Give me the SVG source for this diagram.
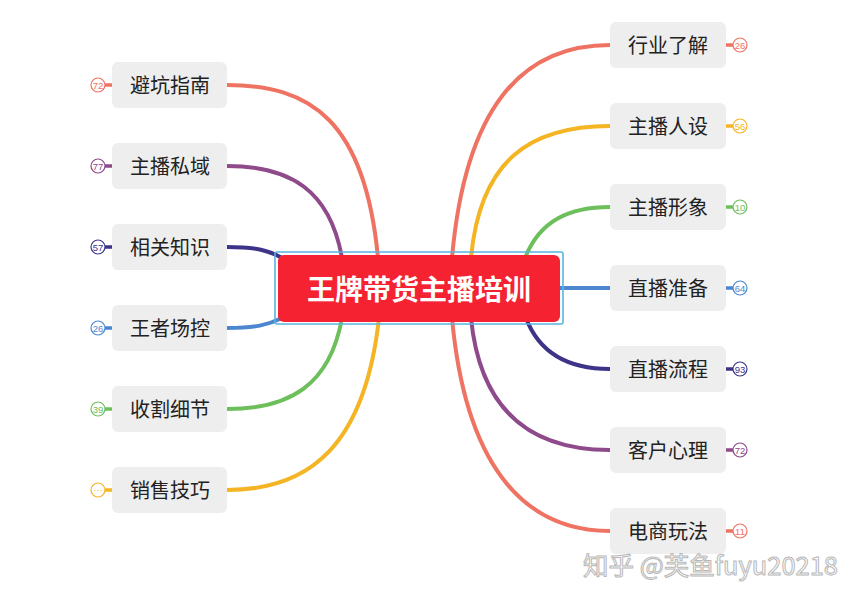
<svg xmlns="http://www.w3.org/2000/svg" width="861" height="602" viewBox="0 0 861 602">
<defs>
<style>
.bg{fill:#ffffff}
.conn path{fill:none;stroke-width:4;stroke-linecap:round}
.box{fill:#eeeeee}
.lbl{font-family:"Noto Sans CJK SC","Liberation Sans",sans-serif;font-size:20px;fill:#222222;text-anchor:middle;dominant-baseline:central}
.badge circle{fill:#ffffff;stroke-width:1.2}
.badge text{font-family:"Liberation Sans",sans-serif;font-size:9.5px;text-anchor:middle;dominant-baseline:central}
.stub{stroke-width:3.5;fill:none}
.c1{stroke:#EF7362}.t1{fill:#EF7362}
.c2{stroke:#F4B423}.t2{fill:#F4B423}
.c3{stroke:#6CBF5A}.t3{fill:#6CBF5A}
.c4{stroke:#4C86CE}.t4{fill:#4C86CE}
.c5{stroke:#3D3389}.t5{fill:#3D3389}
.c6{stroke:#8E4A8A}.t6{fill:#8E4A8A}
.title{font-family:"Noto Sans CJK SC","Liberation Sans",sans-serif;font-size:28px;font-weight:bold;fill:#ffffff;text-anchor:middle;dominant-baseline:central}
.wm{font-family:"Noto Sans CJK SC","Liberation Sans",sans-serif;font-size:25px;fill:#ffffff;stroke:#b8b8b8;stroke-width:1}
</style>
</defs>
<rect class="bg" x="0" y="0" width="861" height="602"/>

<g id="connectors" class="conn">
<path class="c1" d="M452,258 C465,110 520,45 610,45"/>
<path class="c2" d="M471,258 C480,160 530,126 610,126"/>
<path class="c3" d="M525,258 C540,220 570,207 610,207"/>
<path class="c4" d="M556,288 L610,288"/>
<path class="c5" d="M526,318 C540,355 570,369 610,369"/>
<path class="c6" d="M471,318 C480,410 530,450 610,450"/>
<path class="c1" d="M452,318 C465,460 520,531 610,531"/>
<path class="c1" d="M378,258 C365,120 310,85 227,85"/>
<path class="c6" d="M342,258 C330,190 290,166 227,166"/>
<path class="c5" d="M227,247 C255,247 268,250 282,258"/>
<path class="c4" d="M227,328 C255,328 268,325 282,318"/>
<path class="c3" d="M342,318 C330,385 290,409 227,409"/>
<path class="c2" d="M379,318 C365,445 310,490 227,490"/>
</g>

<g id="center">
<rect x="275" y="252" width="288" height="72" rx="2" fill="none" stroke="#5AB4E0" stroke-width="1.6"/>
<rect x="278" y="255" width="282" height="67" rx="6" fill="#F52231"/>
<text class="title" x="419" y="288">王牌带货主播培训</text>
</g>

<g id="n-hangye">
<rect class="box" x="610" y="22" width="116" height="46" rx="6"/>
<text class="lbl" x="668" y="44">行业了解</text>
<g class="badge"><line class="stub c1" x1="726" y1="45" x2="733" y2="45"/><circle class="c1" cx="740" cy="45" r="7"/><text class="t1" x="740" y="45">26</text></g>
</g>
<g id="n-renshe">
<rect class="box" x="610" y="103" width="116" height="46" rx="6"/>
<text class="lbl" x="668" y="125">主播人设</text>
<g class="badge"><line class="stub c2" x1="726" y1="126" x2="733" y2="126"/><circle class="c2" cx="740" cy="126" r="7"/><text class="t2" x="740" y="126">56</text></g>
</g>
<g id="n-xingxiang">
<rect class="box" x="610" y="184" width="116" height="46" rx="6"/>
<text class="lbl" x="668" y="206">主播形象</text>
<g class="badge"><line class="stub c3" x1="726" y1="207" x2="733" y2="207"/><circle class="c3" cx="740" cy="207" r="7"/><text class="t3" x="740" y="207">10</text></g>
</g>
<g id="n-zhunbei">
<rect class="box" x="610" y="265" width="116" height="46" rx="6"/>
<text class="lbl" x="668" y="287">直播准备</text>
<g class="badge"><line class="stub c4" x1="726" y1="288" x2="733" y2="288"/><circle class="c4" cx="740" cy="288" r="7"/><text class="t4" x="740" y="288">64</text></g>
</g>
<g id="n-liucheng">
<rect class="box" x="610" y="346" width="116" height="46" rx="6"/>
<text class="lbl" x="668" y="368">直播流程</text>
<g class="badge"><line class="stub c5" x1="726" y1="369" x2="733" y2="369"/><circle class="c5" cx="740" cy="369" r="7"/><text class="t5" x="740" y="369">93</text></g>
</g>
<g id="n-xinli">
<rect class="box" x="610" y="427" width="116" height="46" rx="6"/>
<text class="lbl" x="668" y="449">客户心理</text>
<g class="badge"><line class="stub c6" x1="726" y1="450" x2="733" y2="450"/><circle class="c6" cx="740" cy="450" r="7"/><text class="t6" x="740" y="450">72</text></g>
</g>
<g id="n-wanfa">
<rect class="box" x="610" y="508" width="116" height="46" rx="6"/>
<text class="lbl" x="668" y="530">电商玩法</text>
<g class="badge"><line class="stub c1" x1="726" y1="531" x2="733" y2="531"/><circle class="c1" cx="740" cy="531" r="7"/><text class="t1" x="740" y="531">11</text></g>
</g>

<g id="n-bikeng">
<rect class="box" x="112" y="62" width="115" height="46" rx="6"/>
<text class="lbl" x="170" y="84">避坑指南</text>
<g class="badge"><line class="stub c1" x1="105" y1="85" x2="112" y2="85"/><circle class="c1" cx="98" cy="85" r="7"/><text class="t1" x="98" y="85">72</text></g>
</g>
<g id="n-siyu">
<rect class="box" x="112" y="143" width="115" height="46" rx="6"/>
<text class="lbl" x="170" y="165">主播私域</text>
<g class="badge"><line class="stub c6" x1="105" y1="166" x2="112" y2="166"/><circle class="c6" cx="98" cy="166" r="7"/><text class="t6" x="98" y="166">77</text></g>
</g>
<g id="n-zhishi">
<rect class="box" x="112" y="224" width="115" height="46" rx="6"/>
<text class="lbl" x="170" y="246">相关知识</text>
<g class="badge"><line class="stub c5" x1="105" y1="247" x2="112" y2="247"/><circle class="c5" cx="98" cy="247" r="7"/><text class="t5" x="98" y="247">57</text></g>
</g>
<g id="n-changkong">
<rect class="box" x="112" y="305" width="115" height="46" rx="6"/>
<text class="lbl" x="170" y="327">王者场控</text>
<g class="badge"><line class="stub c4" x1="105" y1="328" x2="112" y2="328"/><circle class="c4" cx="98" cy="328" r="7"/><text class="t4" x="98" y="328">26</text></g>
</g>
<g id="n-shouge">
<rect class="box" x="112" y="386" width="115" height="46" rx="6"/>
<text class="lbl" x="170" y="408">收割细节</text>
<g class="badge"><line class="stub c3" x1="105" y1="409" x2="112" y2="409"/><circle class="c3" cx="98" cy="409" r="7"/><text class="t3" x="98" y="409">39</text></g>
</g>
<g id="n-jiqiao">
<rect class="box" x="112" y="467" width="115" height="46" rx="6"/>
<text class="lbl" x="170" y="489">销售技巧</text>
<g class="badge"><line class="stub c2" x1="105" y1="490" x2="112" y2="490"/><circle class="c2" cx="98" cy="490" r="7"/><text class="t2" x="98" y="489">···</text></g>
</g>

<text class="wm" x="583" y="575" textLength="255" lengthAdjust="spacingAndGlyphs">知乎 @芙鱼fuyu20218</text>
</svg>
